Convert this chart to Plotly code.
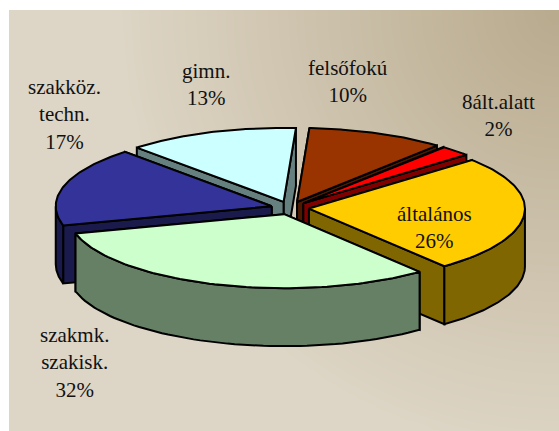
import numpy as np
import plotly.graph_objects as go

categories = ["általános", "szakmk.<br>szakisk.", "szakköz.<br>techn.", "gimn.", "felsőfokú", "8ált.alatt"]
values = [25.6, 31.6, 17.3, 12.8, 10.3, 2.4]
top_colors = ["#FFCC00", "#CCFFCC", "#333399", "#CCFFFF", "#993300", "#FF0000"]
wall_colors = ["#806600", "#668066", "#1A1A4D", "#668080", "#4D1A00", "#800000"]
label_x = [434, 74, 64, 206, 348, 498]
label_y = [227, 362, 114, 84, 81, 115]
draw_order = [3, 4, 5, 2, 0, 1]

W, H = 559, 431
PX0, PY0 = 9, 10
CX, CY, RX, RY, DEPTH, EXPLODE = 290, 208, 216, 74, 58, 19
START = 41

fig = go.Figure()

# background gradient (darkest in the top right corner); cells are centred, so start half a cell in
STEP = 10
gx = np.arange(PX0 + STEP / 2, W + STEP, STEP)
gy = np.arange(PY0 + STEP / 2, H + STEP, STEP)
GX, GY = np.meshgrid(gx, gy)
Z = np.clip(1 - np.hypot(GX - W, GY - PY0) / 440, 0, 1)
fig.add_trace(go.Heatmap(x=gx, y=gy, z=Z, zmin=0, zmax=1, zsmooth="best", showscale=False, hoverinfo="skip",
                         colorscale=[[0, "#DDD5C5"], [1, "#B8AA8D"]]))


def poly(xs, ys, color):
    fig.add_trace(go.Scatter(x=xs, y=ys, mode="lines", fill="toself", fillcolor=color,
                             line=dict(color="black", width=2), hoverinfo="skip", showlegend=False))


edges = START - np.cumsum([0] + values) * 3.6
for i in draw_order:
    a0, a1 = edges[i], edges[i + 1]
    mid = np.radians((a0 + a1) / 2)
    ax = CX + EXPLODE * np.cos(mid)
    ay = CY - EXPLODE * np.sin(mid) * RY / RX
    th = np.radians(np.linspace(a0, a1, 80))
    ex, ey = ax + RX * np.cos(th), ay - RY * np.sin(th)
    # cut walls, the one further back first
    ends = sorted([(ey[0], ex[0]), (ey[-1], ex[-1])])
    for py, px in ends:
        poly([ax, px, px, ax, ax], [ay, py, py + DEPTH, ay + DEPTH, ay], wall_colors[i])
    # outer wall: only the front part of the rim
    for k in range(-1, 1):
        lo, hi = -180 + 360 * k, 0 + 360 * k
        f0, f1 = min(a0, hi), max(a1, lo)
        if f0 > f1:
            t = np.radians(np.linspace(f0, f1, 60))
            wx, wy = ax + RX * np.cos(t), ay - RY * np.sin(t)
            poly(list(wx) + list(wx[::-1]) + [wx[0]], list(wy) + list(wy[::-1] + DEPTH) + [wy[0]], wall_colors[i])
    # top face
    poly([ax] + list(ex) + [ax], [ay] + list(ey) + [ay], top_colors[i])

for name, v, x, y in zip(categories, values, label_x, label_y):
    fig.add_annotation(x=x, y=y, text=f"{name}<br>{round(v)}%", showarrow=False, xanchor="center", yanchor="middle",
                       font=dict(family="Liberation Serif", size=21, color="#111111"))

fig.update_layout(width=W, height=H, margin=dict(l=0, r=0, t=0, b=0), paper_bgcolor="white", plot_bgcolor="white",
                  showlegend=False,
                  xaxis=dict(range=[0, W], visible=False, fixedrange=True),
                  yaxis=dict(range=[H, 0], visible=False, fixedrange=True))
fig.write_html("out.html", config={"displayModeBar": False},
               post_script="document.body.style.margin='0';document.body.style.overflow='hidden';")
